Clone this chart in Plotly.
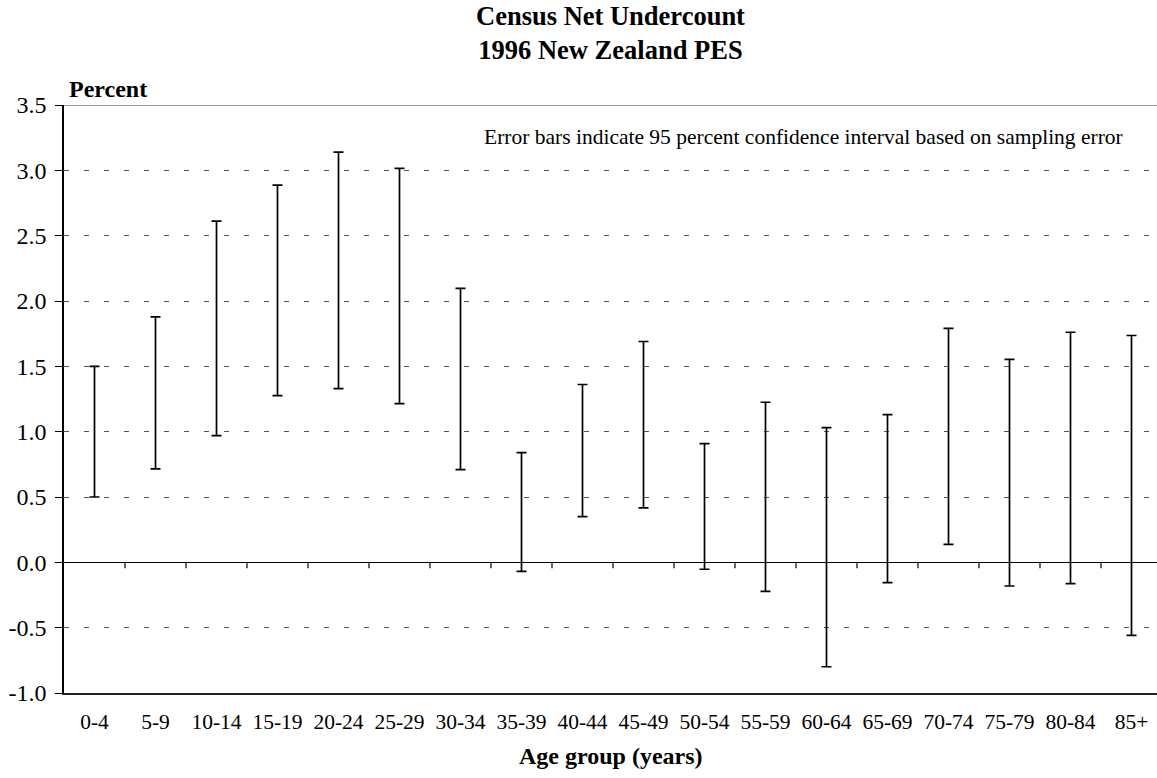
import plotly.graph_objects as go

age_groups = ["0-4", "5-9", "10-14", "15-19", "20-24", "25-29", "30-34", "35-39", "40-44",
              "45-49", "50-54", "55-59", "60-64", "65-69", "70-74", "75-79", "80-84", "85+"]
ci_low = [0.50, 0.715, 0.97, 1.276, 1.33, 1.214, 0.71, -0.069, 0.35,
          0.417, -0.053, -0.222, -0.799, -0.155, 0.138, -0.181, -0.163, -0.559]
ci_high = [1.50, 1.879, 2.611, 2.887, 3.139, 3.015, 2.096, 0.84, 1.361,
           1.69, 0.909, 1.225, 1.031, 1.13, 1.79, 1.554, 1.761, 1.736]
estimate = [(lo + hi) / 2 for lo, hi in zip(ci_low, ci_high)]
y_ticks = [-1.0, -0.5, 0.0, 0.5, 1.0, 1.5, 2.0, 2.5, 3.0, 3.5]

FONT = "Liberation Serif, Times New Roman, serif"
W, H = 1157, 778
ML, MR, MT, MB = 64, 0, 105, 85
cat_px = 61.0
plot_w = W - ML - MR
x_lo = -0.5
x_hi = x_lo + plot_w / cat_px

xs = list(range(len(age_groups)))
fig = go.Figure()
fig.add_trace(go.Scatter(
    x=xs, y=estimate, mode="markers",
    marker=dict(size=1, color="rgba(0,0,0,0)"),
    error_y=dict(type="data", symmetric=False,
                 array=[h - e for h, e in zip(ci_high, estimate)],
                 arrayminus=[e - l for e, l in zip(estimate, ci_low)],
                 color="black", thickness=1.7, width=5),
    showlegend=False, hoverinfo="skip"))

# boundary ticks on zero line
shapes = []
tick_len = 6 * (4.5 / (H - MT - MB))
for k in range(1, len(age_groups)):
    shapes.append(dict(type="line", xref="x", yref="y", x0=k - 0.5, x1=k - 0.5,
                       y0=0, y1=-tick_len, line=dict(color="black", width=1.2)))
# top line at 3.5
shapes.append(dict(type="line", xref="paper", yref="y", x0=0, x1=1, y0=y_ticks[-1], y1=y_ticks[-1],
                   line=dict(color="#777", width=1.5), layer="below"))

fig.update_layout(
    width=W, height=H,
    margin=dict(l=ML, r=MR, t=MT, b=MB),
    paper_bgcolor="white", plot_bgcolor="white",
    font=dict(family=FONT, size=21, color="black"),
    shapes=shapes,
    xaxis=dict(range=[x_lo, x_hi], tickmode="array", tickvals=xs, ticktext=age_groups,
               showgrid=False, zeroline=False, showline=True, linecolor="#222", linewidth=1.5,
               ticks="", ticklabelstandoff=8,
               tickfont=dict(family=FONT, size=21.5)),
    yaxis=dict(range=[y_ticks[0], y_ticks[-1]], tickmode="array", tickvals=y_ticks,
               ticktext=[f"{v:.1f}" for v in y_ticks],
               showgrid=True, gridcolor="#555", griddash="5px,15px", gridwidth=1,
               zeroline=True, zerolinecolor="black", zerolinewidth=1.2,
               showline=True, linecolor="black", linewidth=1.5,
               ticks="outside", ticklen=7, tickcolor="black", tickwidth=1,
               ticklabelstandoff=4,
               tickfont=dict(family=FONT, size=24)),
    annotations=[
        dict(text="<b>Census Net Undercount<br>1996 New Zealand PES</b>", xref="paper", yref="paper",
             x=0.5, y=1, yanchor="bottom", yshift=38, showarrow=False,
             font=dict(family=FONT, size=26.5)),
        dict(text="<b>Percent</b>", xref="paper", yref="paper", x=0, xanchor="left", xshift=3,
             y=1, yanchor="bottom", yshift=1, showarrow=False, font=dict(family=FONT, size=24)),
        dict(text="<b>Age group (years)</b>", xref="paper", yref="paper", x=0.5, y=0,
             yanchor="top", yshift=-48, showarrow=False, font=dict(family=FONT, size=24)),
        dict(text="Error bars indicate 95 percent confidence interval based on sampling error",
             xref="paper", yref="paper", x=1, xanchor="right", xshift=-32,
             y=1, yanchor="top", yshift=-18, showarrow=False, font=dict(family=FONT, size=21.5)),
    ],
)
fig.write_html("out.html", config={"displayModeBar": False},
               post_script="document.body.style.margin='0';document.body.style.overflow='hidden';")
